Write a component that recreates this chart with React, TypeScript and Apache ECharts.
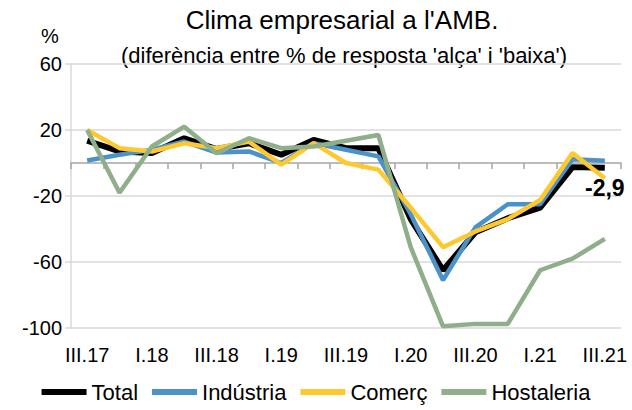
import React, { useEffect, useRef } from "react";
import * as echarts from "echarts";

const categories = [
  "III.17", "IV.17", "I.18", "II.18", "III.18", "IV.18", "I.19", "II.19", "III.19",
  "IV.19", "I.20", "II.20", "III.20", "IV.20", "I.21", "II.21", "III.21",
];
const total = [13.5, 7, 6, 15, 8.5, 12, 5, 14, 9, 9, -34, -65, -42, -33.5, -27, -2.5, -2.9];
const industria = [1.5, 5, 8, 13, 6.3, 7, 0, 12, 8, 4, -31, -71, -39, -25, -25, 2.2, 1.4];
const comerc = [20, 9, 7, 12, 9, 13, -1, 12, 0, -4, -27, -51, -41.5, -34, -22.4, 6, -9.3];
const hostaleria = [20, -18, 10, 22, 5.9, 15, 9, 10, 13.5, 17, -51, -99, -97.5, -97.5, -65, -58, -46];
const yTicks = { min: -100, max: 60, interval: 40 };
const lastLabel = "-2,9";

const FONT = "'Liberation Sans', Arial, sans-serif";

export default function App() {
  const ref = useRef<HTMLDivElement>(null);
  useEffect(() => {
    if (!ref.current) return;
    const chart = echarts.init(ref.current, null, { renderer: "svg" });
    const lastIdx = total.length - 1;
    chart.setOption({
      animation: false,
      textStyle: { fontFamily: FONT },
      graphic: [
        {
          type: "text", x: 342, y: 20,
          style: { text: "Clima empresarial a l'AMB.", font: `26px ${FONT}`, fill: "#000", textAlign: "center", textVerticalAlign: "middle" },
        },
        {
          type: "text", x: 344, y: 55,
          style: { text: "(diferència entre % de resposta 'alça' i 'baixa')", font: `22px ${FONT}`, fill: "#000", textAlign: "center", textVerticalAlign: "middle" },
        },
        {
          type: "text", x: 50, y: 36,
          style: { text: "%", font: `20px ${FONT}`, fill: "#000", textAlign: "center", textVerticalAlign: "middle" },
        },
      ],
      grid: { left: 71, right: 11, top: 64, bottom: 82 },
      legend: {
        bottom: 2,
        left: "center",
        itemWidth: 45,
        itemHeight: 6,
        itemGap: 14,
        icon: "rect",
        textStyle: { fontSize: 22, color: "#000", fontFamily: FONT },
        data: [
          { name: "Total", itemStyle: { color: "#000" } },
          { name: "Indústria" },
          { name: "Comerç" },
          { name: "Hostaleria" },
        ],
      },
      xAxis: [
        {
          type: "category",
          data: categories,
          position: "bottom",
          boundaryGap: true,
          axisLine: { show: false, onZero: false },
          axisTick: { show: false },
          axisLabel: { interval: 1, margin: 17, fontSize: 20, color: "#000", fontFamily: FONT },
        },
        {
          type: "category",
          data: categories,
          position: "top",
          boundaryGap: true,
          axisLine: { show: true, onZero: true, lineStyle: { color: "#a6a6a6", width: 1.5 } },
          axisTick: { show: true, interval: 0, inside: true, length: 6, lineStyle: { color: "#a6a6a6", width: 1.5 } },
          axisLabel: { show: false },
        },
      ],
      yAxis: {
        type: "value",
        min: yTicks.min,
        max: yTicks.max,
        interval: yTicks.interval,
        axisLine: { show: true, lineStyle: { color: "#d9d9d9", width: 1.5 } },
        axisTick: { show: true, length: 6, lineStyle: { color: "#d9d9d9", width: 1.5 } },
        splitLine: { lineStyle: { color: "#d9d9d9", width: 1.5 } },
        axisLabel: { fontSize: 20, color: "#000", margin: 9, fontFamily: FONT },
      },
      series: [
        {
          name: "Total", type: "line", data: total,
          symbol: "none", color: "#000",
          lineStyle: { width: 6, color: "#000" },
          markPoint: {
            symbol: "circle",
            symbolSize: 1,
            itemStyle: { color: "rgba(0,0,0,0)" },
            data: [{ coord: [lastIdx, total[lastIdx]], value: total[lastIdx] }],
            label: {
              show: true, position: "bottom", distance: 8, formatter: lastLabel,
              fontSize: 23, fontWeight: "bold", color: "#000", fontFamily: FONT,
            },
          },
        },
        {
          name: "Indústria", type: "line", data: industria, symbol: "none", color: "#4b92c9",
          lineStyle: { width: 4.5, color: "#4b92c9" },
        },
        {
          name: "Comerç", type: "line", data: comerc, symbol: "none", color: "#ffc92e",
          lineStyle: { width: 4.5, color: "#ffc92e" },
        },
        {
          name: "Hostaleria", type: "line", data: hostaleria, symbol: "none", color: "#8fae8a",
          lineStyle: { width: 4.5, color: "#8fae8a" },
        },
      ],
    });
    return () => chart.dispose();
  }, []);
  return <div ref={ref} style={{ width: 632, height: 410, position: "absolute", left: 0, top: 0 }} />;
}
